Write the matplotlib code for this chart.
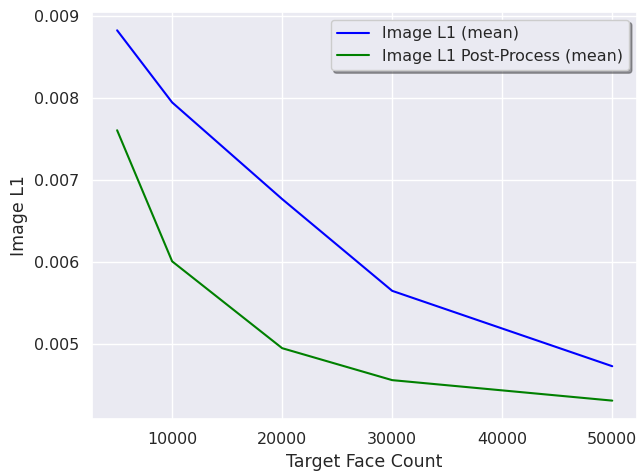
import matplotlib
matplotlib.use("Agg")
import matplotlib.pyplot as plt
import seaborn as sns

sns.set_theme(style="darkgrid", font_scale=1.04)

face_counts = [5000, 10000, 20000, 30000, 50000]
image_l1 = [0.00883, 0.00795, 0.00677, 0.00565, 0.00473]
image_l1_post = [0.00761, 0.00601, 0.00495, 0.00456, 0.00431]

fig, ax = plt.subplots(figsize=(6.37, 4.72), dpi=100)
ax.plot(face_counts, image_l1, color="blue", label="Image L1 (mean)")
ax.plot(face_counts, image_l1_post, color="green", label="Image L1 Post-Process (mean)")
ax.set_xlabel("Target Face Count")
ax.set_ylabel("Image L1")
ax.legend(loc="upper right", frameon=True, shadow=True)
plt.subplots_adjust(left=0.145, right=1.0, top=0.975, bottom=0.112)
fig.savefig("out.png")
